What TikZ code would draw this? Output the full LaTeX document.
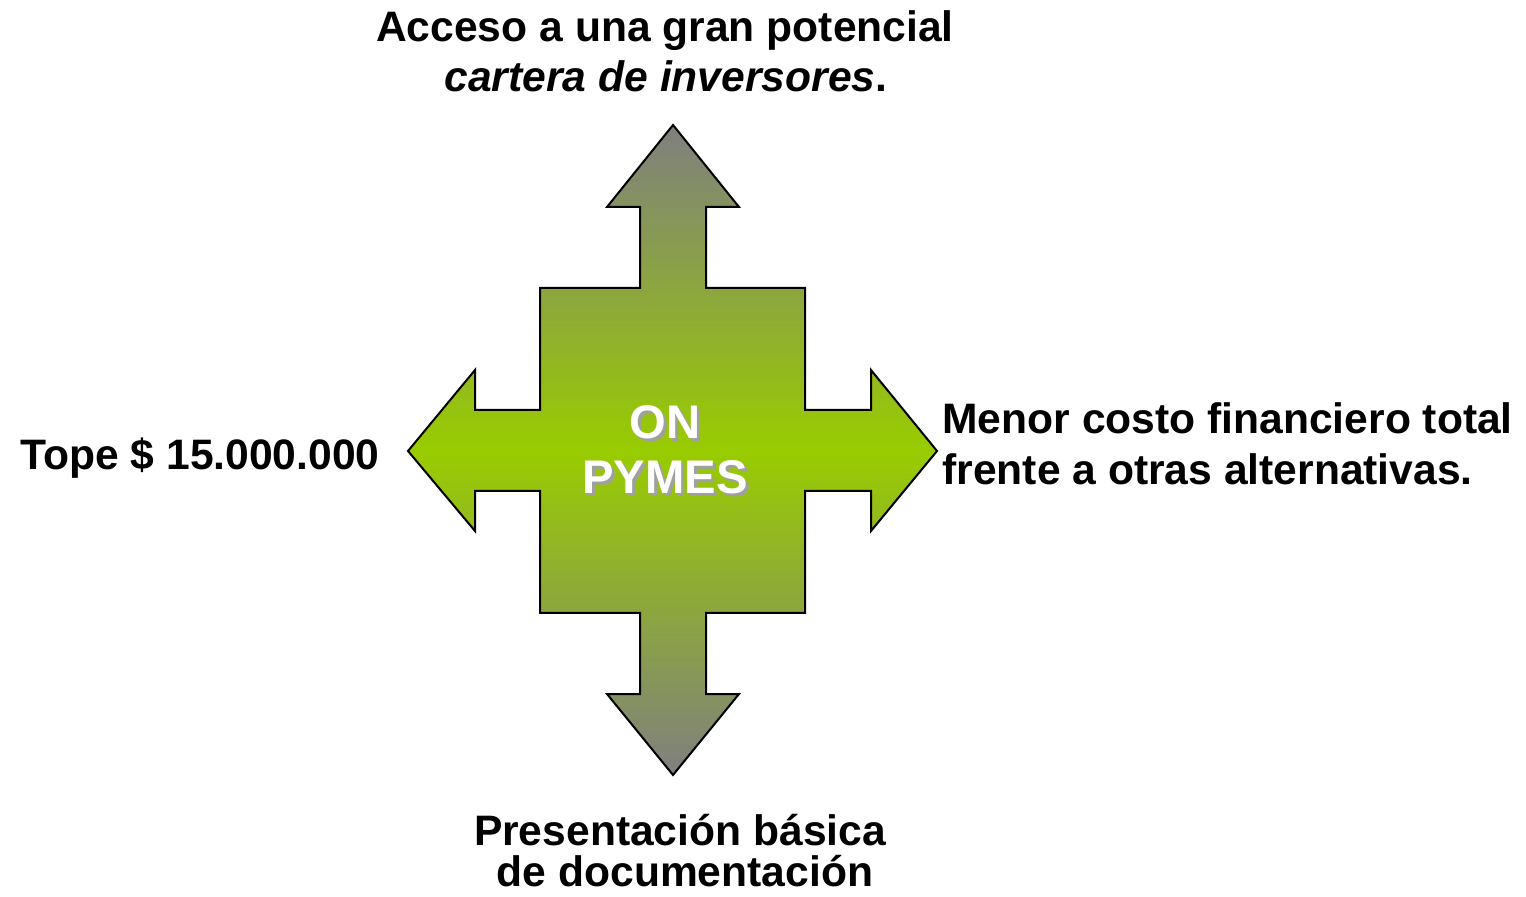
\documentclass[tikz,border=0pt]{standalone}
\usepackage{fontspec}
\setmainfont{Liberation Sans}
\begin{document}
\begin{tikzpicture}[x=0.5pt,y=-0.5pt,
  lbl/.style={inner sep=0pt,font=\fontsize{21.3}{25.5}\selectfont\bfseries},
  ctr/.style={inner sep=0pt,font=\fontsize{23.6}{26}\selectfont\bfseries,anchor=base},
  arrowfill/.style={draw=black,line width=1pt,line join=miter,
    top color=gray4,bottom color=gray4,middle color=green4}]
\definecolor{gray4}{HTML}{7F7F7F}
\definecolor{green4}{HTML}{99CC00}
\definecolor{shad}{HTML}{A0A0A0}
\useasboundingbox (0,0) rectangle (1526,897);
% four-way arrow
\path[arrowfill] (673,125) -- (739,207) -- (706,207) -- (706,288) -- (805,288)
  -- (805,410) -- (871,410) -- (871,370) -- (937,451) -- (871,531) -- (871,491)
  -- (805,491) -- (805,613) -- (706,613) -- (706,694) -- (739,694) -- (673,775)
  -- (607,694) -- (640,694) -- (640,613) -- (540,613) -- (540,491) -- (475,491)
  -- (475,531) -- (408,451) -- (475,370) -- (475,410) -- (540,410) -- (540,288)
  -- (640,288) -- (640,207) -- (607,207) -- cycle;
% centre text with shadow
\node[ctr,text=shad] (onS) at (668,442) {ON};
\node[ctr,text=shad] (pymesS) at (668,497) {PYMES};
\node[ctr,text=white] (on) at (665,439) {ON};
\node[ctr,text=white] (pymes) at (665,494) {PYMES};
% labels
\node[lbl,anchor=base] (top1) at (665,42) {Acceso a una gran potencial};
\node[lbl,anchor=base] (top2) at (666,92) {\itshape cartera de inversores\upshape.};
\node[lbl,anchor=base west] (left) at (20,470) {Tope \$ 15.000.000};
\node[lbl,anchor=base west] (right1) at (942,434) {Menor costo financiero total};
\node[lbl,anchor=base west] (right2) at (942,485) {frente a otras alternativas.};
\node[lbl,anchor=base] (bot1) at (680,845) {Presentación básica};
\node[lbl,anchor=base] (bot2) at (685,886) {de documentación};
\end{tikzpicture}
\end{document}
